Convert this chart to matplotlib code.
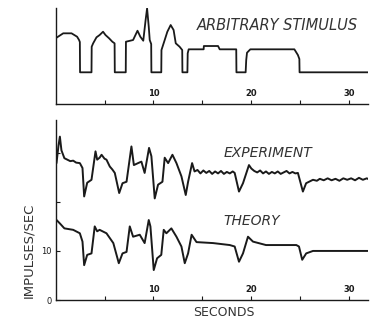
import matplotlib
matplotlib.use("Agg")
import matplotlib.pyplot as plt

# stimulus (arbitrary units)
stim_t = [0.0, 0.78, 1.63, 2.2, 2.4, 2.48, 2.5, 3.67, 3.69, 3.84, 4.18, 4.5, 4.85, 5.1, 5.47,
          5.8, 6.03, 6.05, 7.17, 7.19, 7.92, 8.37, 8.66, 8.96, 9.2, 9.35, 9.52, 9.62, 9.77,
          9.79, 10.8, 10.82, 11.15, 11.42, 11.76, 12.06, 12.28, 12.67, 12.94, 12.96, 13.47,
          13.5, 13.6, 15.13, 15.15, 16.6, 16.77, 18.46, 18.48, 19.42, 19.48, 19.56, 19.9,
          24.4, 24.76, 24.91, 24.93, 32.0]
stim_v = [65.7, 70.7, 70.7, 67.3, 64.0, 62.0, 31.7, 31.7, 57.3, 60.7, 66.7, 69.0, 72.3, 69.0, 65.7,
          62.3, 60.7, 31.7, 31.7, 62.3, 64.0, 73.3, 67.3, 63.3, 84.0, 95.7, 77.3, 64.0, 60.0,
          31.7, 31.7, 54.0, 64.0, 72.3, 79.0, 74.0, 60.7, 57.3, 54.0, 31.7, 31.7,
          50.7, 54.7, 54.7, 58.0, 58.0, 54.7, 54.7, 31.7, 31.7, 44.0, 51.3, 54.7,
          54.7, 49.0, 45.0, 31.7, 31.7]

# experiment, impulses/sec
exp_t = [0.1, 0.3, 0.44, 0.6, 0.9, 1.2, 1.5, 1.8, 2.1, 2.48, 2.75, 2.92, 3.23, 3.67, 4.08,
         4.25, 4.5, 4.7, 5.0, 5.2, 5.54, 5.8, 6.05, 6.5, 6.84, 7.25, 7.75, 8.0, 8.43, 8.77,
         9.1, 9.55, 9.79, 10.13, 10.47, 10.92, 11.15, 11.5, 11.94, 12.35, 12.86, 13.3, 13.54,
         13.95, 14.2, 14.5, 14.8, 15.1, 15.4, 15.7, 16.0, 16.3, 16.6, 16.9, 17.2, 17.5, 17.8,
         18.1, 18.3, 18.74, 19.15, 19.76, 20.0, 20.3, 20.6, 20.9, 21.2, 21.5, 21.8, 22.1, 22.4,
         22.7, 23.0, 23.3, 23.6, 23.9, 24.2, 24.5, 24.76, 25.27, 25.6, 26.0, 26.3, 26.7, 27.0,
         27.4, 27.8, 28.2, 28.6, 29.0, 29.4, 29.8, 30.2, 30.6, 31.0, 31.4, 31.8, 32.0]
exp_v = [28.0, 31.5, 33.3, 30.5, 28.9, 28.6, 28.3, 28.4, 28.0, 27.9, 26.9, 21.1, 23.9, 24.5, 30.3,
         28.6, 29.0, 29.6, 28.8, 28.6, 27.2, 26.6, 25.9, 21.8, 23.8, 24.1, 31.3, 27.5, 27.9, 28.2,
         25.9, 31.0, 29.3, 20.7, 23.5, 24.1, 29.0, 27.9, 29.6, 27.9, 25.2, 21.4, 24.1,
         27.9, 26.2, 26.5, 25.8, 26.4, 25.9, 26.3, 25.7, 26.2, 25.8, 26.3, 25.7, 26.1, 25.8,
         26.2, 25.9, 22.1, 23.8, 27.5, 26.8, 26.3, 26.0, 26.4, 25.8, 26.2, 25.7, 26.1, 25.8,
         26.2, 25.7, 26.0, 26.3, 25.8, 26.1, 25.8, 25.9, 22.1, 23.8, 24.2, 24.5, 24.3, 24.7,
         24.4, 24.8, 24.4, 24.7, 24.3, 24.8, 24.5, 24.8, 24.4, 24.9, 24.5, 24.8, 24.6]

# theory, impulses/sec
th_t = [0.1, 0.44, 0.9, 1.8, 2.48, 2.75, 2.92, 3.23, 3.67, 4.0, 4.25, 4.5, 5.2, 5.9, 6.46,
        6.84, 7.25, 7.58, 7.92, 8.6, 9.1, 9.52, 9.69, 10.03, 10.37, 10.8, 11.05, 11.32, 11.83,
        12.35, 12.86, 13.2, 13.54, 13.9, 14.4, 16.1, 17.8, 18.3, 18.74, 19.15, 19.66, 20.17,
        21.5, 24.6, 24.87, 25.2, 25.61, 26.3, 32.0]
th_v = [16.3, 15.6, 14.6, 14.3, 13.6, 11.9, 7.1, 9.2, 9.5, 15.0, 14.0, 14.3, 13.6, 11.6, 7.5,
        9.5, 9.8, 15.0, 12.9, 13.3, 11.6, 16.3, 15.0, 6.1, 8.5, 9.2, 14.3, 13.6, 14.6,
        12.9, 10.9, 7.5, 9.5, 13.3, 11.8, 11.6, 11.2, 10.9, 7.8, 9.5, 12.9, 11.9,
        11.2, 11.2, 10.9, 8.2, 9.5, 10.0, 10.0]

ink = "#1a1a1a"
grey = "#333333"
plt.rcParams["font.family"] = ["DejaVu Sans"]

fig = plt.figure(figsize=(3.73, 3.21), dpi=100)
ax1 = fig.add_axes([0.149, 0.676, 0.837, 0.299])
ax2 = fig.add_axes([0.149, 0.0654, 0.837, 0.561])

ax1.plot(stim_t, stim_v, color=ink, lw=1.3)
ax2.plot(exp_t, exp_v, color=ink, lw=1.4)
ax2.plot(th_t, th_v, color=ink, lw=1.4)

for ax in (ax1, ax2):
    ax.set_xlim(0, 31.9)
    for s in ("top", "right"):
        ax.spines[s].set_visible(False)
    for s in ("left", "bottom"):
        ax.spines[s].set_linewidth(1.0)
        ax.spines[s].set_color(ink)
    ax.set_xticks([5, 10, 15, 20, 25, 30])
    ax.set_xticklabels(["", "10", "", "20", "", "30"], fontweight="bold")
    ax.tick_params(axis="x", direction="in", length=3, width=0.8, pad=-11,
                   labelsize=6, colors=ink)

ax1.set_ylim(0, 96)
ax1.set_yticks([])
ax1.text(22.7, 79.0, "ARBITRARY STIMULUS", ha="center", va="center", fontsize=10.5,
         style="italic", color=grey)

ax2.set_ylim(0, 36.7)
ax2.set_yticks([0, 10, 20, 30])
ax2.set_yticklabels(["0", "10", "", ""])
ax2.tick_params(axis="y", direction="in", length=3, width=0.8, pad=3,
                labelsize=6, colors=ink)

ax2.text(21.7, 30.0, "EXPERIMENT", ha="center", va="center", fontsize=10,
         style="italic", color=grey)
ax2.text(20.0, 16.2, "THEORY", ha="center", va="center", fontsize=10,
         style="italic", color=grey)

fig.text(0.078, 0.221, "IMPULSES/SEC", rotation=90, ha="center", va="center",
         fontsize=9.5, color=grey)
fig.text(0.6, 0.025, "SECONDS", ha="center", va="center", fontsize=9, color=grey)

fig.savefig("out.png", dpi=100)
